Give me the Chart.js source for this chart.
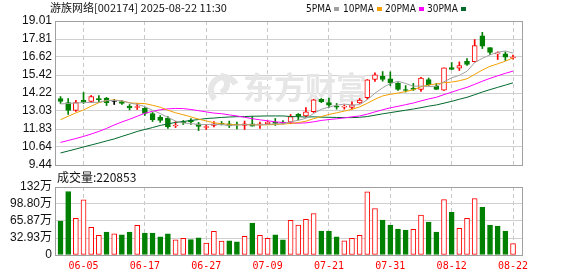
<!DOCTYPE html>
<html>
<head>
<meta charset="utf-8">
<script src="https://cdn.jsdelivr.net/npm/chart.js@4.4.0/dist/chart.umd.min.js"></script>
<style>
html, body { margin: 0; padding: 0; background: #fff; width: 578px; height: 276px; overflow: hidden; }
#wrap { position: relative; width: 578px; height: 276px; }
canvas { position: absolute; left: 0; }
#kline { top: 0; }
#vol { top: 166px; }
</style>
</head>
<body>
<div id="wrap">
  <canvas id="kline" width="578" height="176" style="width:578px;height:176px"></canvas>
  <canvas id="vol" width="578" height="110" style="width:578px;height:110px"></canvas>
</div>
<script>
// 游族网络 002174 daily K line (60 trading days) + volume

const titleText = '游族网络[002174] 2025-08-22 11:30';

const dates = ['05-30','06-03','06-04','06-05','06-06','06-09','06-10','06-11','06-12','06-13',
               '06-16','06-17','06-18','06-19','06-20','06-23','06-24','06-25','06-26','06-27',
               '06-30','07-01','07-02','07-03','07-04','07-07','07-08','07-09','07-10','07-11',
               '07-14','07-15','07-16','07-17','07-18','07-21','07-22','07-23','07-24','07-25',
               '07-28','07-29','07-30','07-31','08-01','08-04','08-05','08-06','08-07','08-08',
               '08-11','08-12','08-13','08-14','08-15','08-18','08-19','08-20','08-21','08-22'];

const openP  = [13.86,13.59,13.06,13.73,13.66,13.86,13.89,13.66,13.66,13.36,
                13.26,13.20,12.86,12.60,12.56,12.03,12.33,12.43,12.17,11.93,
                12.07,12.20,12.17,12.15,12.07,12.18,12.11,12.18,12.25,12.25,
                12.29,12.80,12.70,12.98,13.81,13.59,13.35,13.28,13.26,13.57,
                13.91,15.12,15.34,15.17,14.86,14.46,14.54,14.46,15.11,14.69,
                14.42,15.91,15.87,16.33,16.30,18.03,17.24,16.83,16.82,16.55];
const highP  = [13.99,13.86,13.73,14.26,14.06,14.06,13.93,13.79,13.73,13.46,
                13.53,13.26,12.93,12.73,12.66,12.33,12.40,12.53,12.27,12.13,
                12.33,12.33,12.36,12.30,12.36,12.66,12.30,12.36,12.53,12.40,
                12.80,12.86,13.26,13.81,13.86,13.89,13.53,13.44,13.64,13.86,
                15.12,15.57,15.65,15.63,14.92,14.72,14.86,15.26,15.22,14.86,
                15.90,16.25,16.29,16.52,17.78,18.26,17.25,16.96,16.95,16.75];
const lowP   = [13.53,12.80,13.00,13.53,13.59,13.63,13.39,13.46,13.46,13.10,
                13.13,12.73,12.33,12.27,11.87,11.93,12.13,12.13,11.73,11.80,
                11.97,12.10,11.93,11.83,11.80,12.02,11.87,12.13,12.07,12.17,
                12.18,12.43,12.64,12.93,13.59,13.26,13.15,13.15,13.15,13.53,
                13.81,14.99,15.01,14.72,14.39,14.29,14.39,14.33,14.72,14.46,
                14.39,15.79,15.72,16.05,16.27,17.18,16.78,16.45,16.39,16.48];
const closeP = [13.66,13.06,13.59,13.63,13.99,13.79,13.59,13.66,13.53,13.23,
                13.33,12.86,12.46,12.40,11.97,12.10,12.23,12.30,12.00,12.00,
                12.17,12.15,12.05,12.10,12.18,12.02,12.15,12.29,12.21,12.23,
                12.66,12.68,12.98,13.77,13.63,13.41,13.28,13.35,13.44,13.75,
                15.10,15.43,15.12,14.89,14.46,14.39,14.47,15.22,14.78,14.47,
                15.89,15.80,16.04,16.13,17.37,17.33,16.93,16.88,16.60,16.62];

const ma5  = [13.50,13.53,13.56,13.59,13.59,13.61,13.72,13.73,13.71,13.56,
              13.47,13.32,13.08,12.86,12.60,12.36,12.23,12.20,12.12,12.13,
              12.14,12.12,12.07,12.09,12.13,12.10,12.10,12.15,12.17,12.18,
              12.31,12.41,12.55,12.86,13.14,13.29,13.41,13.49,13.42,13.45,
              13.78,14.21,14.57,14.86,15.00,14.86,14.67,14.69,14.66,14.67,
              14.97,15.23,15.40,15.67,16.25,16.53,16.76,16.93,17.02,16.87];
const ma10 = [12.45,12.68,12.90,13.10,13.35,13.58,13.72,13.76,13.70,13.57,
              13.54,13.52,13.41,13.28,13.08,12.91,12.78,12.64,12.49,12.37,
              12.25,12.18,12.14,12.11,12.13,12.12,12.11,12.11,12.13,12.16,
              12.20,12.26,12.35,12.52,12.66,12.80,12.91,13.02,13.14,13.30,
              13.54,13.81,14.03,14.14,14.22,14.32,14.44,14.63,14.76,14.83,
              14.91,14.95,15.04,15.17,15.46,15.75,16.00,16.16,16.34,16.56];
const ma20 = [10.94,11.07,11.20,11.34,11.50,11.67,11.87,12.10,12.30,12.48,
              12.68,12.88,13.01,13.11,13.17,13.20,13.19,13.13,13.05,12.97,
              12.89,12.85,12.77,12.70,12.61,12.52,12.44,12.38,12.31,12.26,
              12.23,12.22,12.24,12.31,12.40,12.46,12.51,12.57,12.64,12.70,
              12.82,12.97,13.11,13.24,13.34,13.45,13.56,13.70,13.83,13.94,
              14.12,14.28,14.45,14.60,14.80,15.01,15.20,15.37,15.53,15.68];
const ma30 = [10.24,10.37,10.50,10.64,10.77,10.90,11.04,11.17,11.34,11.50,
              11.67,11.80,11.93,12.07,12.17,12.27,12.33,12.40,12.46,12.53,
              12.56,12.60,12.63,12.65,12.66,12.68,12.69,12.70,12.70,12.70,
              12.66,12.65,12.63,12.64,12.62,12.61,12.60,12.59,12.59,12.61,
              12.66,12.75,12.84,12.92,13.00,13.08,13.16,13.25,13.35,13.43,
              13.55,13.67,13.81,13.94,14.11,14.29,14.45,14.60,14.75,14.90];

// volume in 万, and whether the volume bar is drawn red (1) or green (0)
const volume = [65.7,123.0,70.8,107.0,53.6,38.3,44.6,40.8,38.9,44.6,
                57.4,42.7,42.7,35.0,40.8,29.3,32.5,29.9,33.1,23.0,
                46.0,26.8,27.4,25.5,36.4,61.8,38.3,32.5,38.9,29.3,
                67.0,58.0,68.9,80.4,46.5,46.5,35.0,27.4,32.5,38.3,
                122.5,90.0,67.6,58.0,50.4,48.4,49.8,77.2,63.8,44.6,
                107.2,82.9,51.7,70.8,109.1,92.5,58.0,56.1,46.5,22.0853];
const volUp = [0,0,1,1,1,1,0,1,0,0, 1,0,0,0,0,1,1,0,0,1,
               1,1,0,0,1,0,1,1,0,0, 1,1,1,1,0,0,0,1,1,1,
               1,1,0,0,0,0,1,1,0,0, 1,0,1,1,1,0,0,0,0,1];

const priceTicks = [9.44, 10.64, 11.83, 13.03, 14.22, 15.42, 16.62, 17.81, 19.01];
const volTicks = [0, 32.93, 65.87, 98.80, 131.73];
const volTickLabels = ['0', '32.93万', '65.87万', '98.80万', '132万'];
const dateTickIdx = [3, 11, 19, 27, 35, 43, 51, 59];
const maNames = ['5PMA', '10PMA', '20PMA', '30PMA'];

const RED = '#ff0000', GREEN = '#008000';
const maColors = ['#a0a0a0', '#f2a100', '#ff00ff', '#00692c'];

const idx = dates.map((d, i) => i);
const candleColor = idx.map(i => closeP[i] > openP[i] ? RED : (closeP[i] < openP[i] ? GREEN : '#000000'));

// shared x axis: linear index scale so slots line up with the picture
function xAxis(showLabels) {
  return {
    type: 'linear', min: -0.72, max: 60.17, offset: false,
    afterBuildTicks: s => { s.ticks = dateTickIdx.map(v => ({ value: v })); },
    afterFit: s => { s.height = showLabels ? 21 : 0; },
    grid: { color: '#c8c8c8', drawTicks: false, offset: false },
    border: { display: false, dash: [4, 3] },
    ticks: {
      display: showLabels, autoSkip: false, maxRotation: 0, padding: 5,
      color: RED, font: { family: 'DejaVu Sans Mono', size: 10 },
      callback: v => dates[v]
    }
  };
}

function frame(color) {
  return {
    id: 'frame',
    afterDraw(chart) {
      const a = chart.chartArea, c = chart.ctx;
      c.save();
      c.strokeStyle = color;
      c.lineWidth = 1;
      c.strokeRect(Math.round(a.left) + 0.5, Math.round(a.top) + 0.5,
                   Math.round(a.right - a.left), Math.round(a.bottom - a.top));
      c.restore();
    }
  };
}

const klineText = {
  id: 'klineText',
  beforeDatasetsDraw(chart) {
    // faint 东方财富 watermark
    const c = chart.ctx;
    c.save();
    c.fillStyle = '#e6e6e6';
    c.strokeStyle = '#e6e6e6';
    c.lineWidth = 6;
    c.beginPath();
    c.arc(224, 90, 13, Math.PI * 0.75, Math.PI * 1.85);
    c.stroke();
    c.beginPath();
    c.arc(218, 84, 9, Math.PI * 1.6, Math.PI * 0.4);
    c.stroke();
    c.font = 'bold 31px "Noto Sans CJK SC"';
    c.textBaseline = 'middle';
    c.fillText('东方财富', 243, 87);
    c.restore();
  },
  afterDraw(chart) {
    const c = chart.ctx;
    c.save();
    c.textBaseline = 'middle';
    c.fillStyle = '#111';
    c.font = '11px "Noto Sans CJK SC"';
    c.fillText(titleText, 50, 8);
    // legend: label then a small colour square
    const tx = [306, 343, 385, 427];
    c.font = '10px "DejaVu Sans Condensed", "Liberation Sans"';
    maNames.forEach((n, k) => {
      c.fillStyle = '#111';
      c.fillText(n, tx[k], 9);
      const w = c.measureText(n).width;
      c.fillStyle = maColors[k];
      c.fillRect(Math.round(tx[k] + w + 3), 7, 5, 4);
    });
    c.restore();
  }
};

const volText = {
  id: 'volText',
  afterDraw(chart) {
    const c = chart.ctx;
    c.save();
    c.textBaseline = 'middle';
    c.fillStyle = '#111';
    c.font = '12px "Noto Sans CJK SC"';
    c.fillText('成交量:' + Math.round(volume[volume.length - 1] * 10000), 57, 11);
    c.restore();
  }
};

const maSets = [ma5, ma10, ma20, ma30].map((arr, k) => ({
  type: 'line',
  data: arr.map((v, i) => ({ x: i, y: v })),
  borderColor: maColors[k],
  borderWidth: 1,
  pointRadius: 0,
  tension: 0,
  fill: false,
  order: 1
}));

new Chart(document.getElementById('kline'), {
  type: 'bar',
  data: {
    datasets: [
      { // wicks
        data: idx.map(i => ({ x: i, y: [lowP[i], highP[i]] })),
        backgroundColor: candleColor,
        barThickness: 1,
        grouped: false,
        order: 3
      },
      { // bodies, up candles hollow
        data: idx.map(i => ({ x: i, y: [openP[i], closeP[i]] })),
        backgroundColor: idx.map(i => closeP[i] > openP[i] ? '#ffffff' : candleColor[i]),
        borderColor: candleColor,
        borderWidth: 1,
        borderSkipped: false,
        minBarLength: 1,
        barThickness: 5,
        grouped: false,
        order: 2
      },
      ...maSets
    ]
  },
  options: {
    responsive: false,
    animation: false,
    events: [],
    layout: { padding: { left: 0, right: 56, top: 21, bottom: 11 } },
    scales: {
      x: xAxis(false),
      y: {
        min: 9.44, max: 19.01,
        afterBuildTicks: s => { s.ticks = priceTicks.map(v => ({ value: v })); },
        afterFit: s => { s.width = 55; },
        grid: { color: '#d0d0d0', drawTicks: false },
        border: { display: false },
        ticks: {
          autoSkip: false, padding: 3, color: '#111',
          font: { family: 'Liberation Sans', size: 12 },
          callback: v => v.toFixed(2)
        }
      }
    },
    plugins: { legend: { display: false }, tooltip: { enabled: false } }
  },
  plugins: [klineText, frame('#a0a0a0')]
});

new Chart(document.getElementById('vol'), {
  type: 'bar',
  data: {
    datasets: [{
      data: idx.map(i => ({ x: i, y: volume[i] })),
      backgroundColor: idx.map(i => volUp[i] ? '#ffffff' : GREEN),
      borderColor: idx.map(i => volUp[i] ? RED : GREEN),
      borderWidth: 1,
      borderSkipped: false,
      barThickness: 5,
      grouped: false
    }]
  },
  options: {
    responsive: false,
    animation: false,
    events: [],
    layout: { padding: { left: 0, right: 56, top: 21, bottom: 0 } },
    scales: {
      x: xAxis(true),
      y: {
        min: 0, max: 131.73,
        afterBuildTicks: s => { s.ticks = volTicks.map(v => ({ value: v })); },
        afterFit: s => { s.width = 55; },
        grid: { color: '#d0d0d0', drawTicks: false },
        border: { display: false },
        ticks: {
          autoSkip: false, padding: 3, color: '#111',
          font: { family: '"Liberation Sans", "Noto Sans CJK SC"', size: 12 },
          callback: (v, i) => volTickLabels[i]
        }
      }
    },
    plugins: { legend: { display: false }, tooltip: { enabled: false } }
  },
  plugins: [volText, frame('#a0a0a0')]
});
</script>
</body>
</html>
